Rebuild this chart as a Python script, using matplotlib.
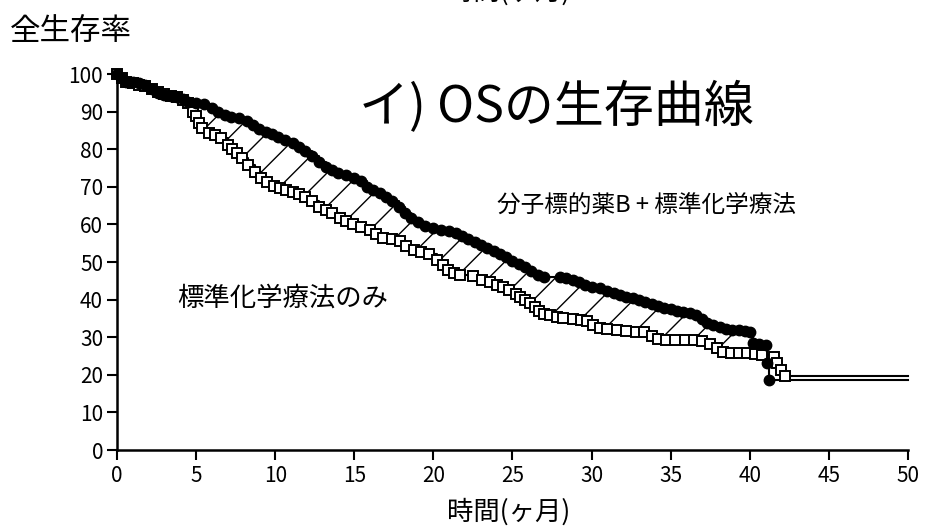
import numpy as np
import matplotlib
matplotlib.use("Agg")
import matplotlib.pyplot as plt

plt.rcParams['font.family'] = ['Noto Sans CJK JP', 'DejaVu Sans']

# Kaplan-Meier steps: 分子標的薬B + 標準化学療法 (filled circles)
t_combo = [0, 0.3, 0.6, 1.0, 1.4, 1.8, 2.2, 2.6, 3.0, 3.4, 3.8, 4.2, 4.5, 5.0, 5.5,
           6.0, 6.4, 6.8, 7.2, 7.7, 8.2, 8.6, 9.0, 9.4, 9.8, 10.2, 10.6, 11.1, 11.5,
           11.9, 12.3, 12.8, 13.2, 13.6, 14.0, 14.5, 15.0, 15.4, 15.8, 16.2, 16.6,
           17.0, 17.4, 17.8, 18.2, 18.6, 19.0, 19.5, 20.0, 20.5, 21.0, 21.4, 21.8,
           22.2, 22.6, 23.0, 23.4, 23.8, 24.2, 24.6, 25.0, 25.4, 25.8, 26.2, 26.6,
           27.0, 28.0, 28.4, 28.8, 29.2, 29.6, 30.0, 30.5, 31.0, 31.4, 31.8, 32.2,
           32.6, 33.0, 33.4, 33.8, 34.2, 34.6, 35.0, 35.4, 35.8, 36.2, 36.6, 37.0,
           37.3, 37.7, 38.1, 38.5, 38.9, 39.3, 39.7, 40.0, 40.2, 40.6, 41.0, 41.1, 41.2]
s_combo = [100, 99, 98, 97.9, 97.6, 97, 96, 95, 94.4, 94.2, 94, 93.4, 92.6, 92.3, 92,
           91, 90, 89, 88.5, 88.3, 87.5, 86.4, 85.3, 84.6, 84, 83.2, 82.4, 81.6, 80.6,
           79.5, 78.3, 76.5, 75.3, 74.5, 73.7, 73.1, 72.4, 71.6, 70, 69.2, 68.4,
           67.3, 66.2, 64.6, 63, 61.7, 60.6, 59.6, 59, 58.5, 58.2, 57.6, 57,
           56.2, 55.2, 54.6, 53.7, 53, 52.2, 51.3, 50.2, 49.4, 48.6, 47.6, 46.5,
           46.1, 46.0, 45.7, 45.2, 44.6, 44, 43.4, 43.1, 42.4, 41.8, 41.3, 40.8,
           40.4, 40, 39.4, 38.9, 38.3, 37.9, 37.5, 37.1, 36.8, 36.4, 35.9, 34.8,
           33.8, 33.3, 32.7, 32.2, 31.9, 31.8, 31.6, 31.4, 28.5, 28.2, 27.9, 23.2, 18.6]

# Kaplan-Meier steps: 標準化学療法のみ (open squares)
t_std = [0, 0.3, 0.6, 1.0, 1.4, 1.8, 2.2, 2.6, 3.0, 3.4, 3.8, 4.2, 4.5, 4.8, 5.0, 5.2,
         5.4, 5.8, 6.2, 6.6, 7.0, 7.3, 7.6, 7.9, 8.3, 8.7, 9.1, 9.5, 9.9, 10.3, 10.7,
         11.1, 11.5, 11.9, 12.3, 12.8, 13.2, 13.6, 14.1, 14.5, 14.9, 15.4, 16.0, 16.4,
         16.8, 17.4, 17.9, 18.3, 18.8, 19.2, 19.7, 20.2, 20.6, 20.9, 21.3, 21.7, 22.5,
         23.1, 23.6, 24.0, 24.4, 24.8, 25.2, 25.5, 25.8, 26.1, 26.4, 26.7, 27.0, 27.4,
         27.8, 28.2, 28.8, 29.3, 29.7, 30.1, 30.5, 31.0, 31.6, 32.2, 32.8, 33.3, 33.8,
         34.2, 34.7, 35.3, 35.9, 36.5, 37.0, 37.5, 37.9, 38.3, 38.8, 39.3, 39.8, 40.3,
         40.8, 41.5, 41.7, 42.0, 42.2]
s_std = [100, 99, 98, 97.6, 97.2, 96.8, 96, 95.2, 94.6, 94.2, 93.9, 93.2, 92.4, 90, 88.8, 87,
         85.6, 84.4, 83.8, 83, 81.1, 80, 79, 77.7, 75.8, 73.9, 72.4, 71.4, 70.3, 69.7, 69.1,
         68.5, 68, 67.3, 66.3, 64.6, 63.8, 63.1, 61.8, 60.8, 60, 59.2, 58.5, 57.5,
         56.4, 56.0, 55.7, 54.2, 53.3, 52.6, 52.2, 50.6, 49.2, 48, 47.2, 46.6, 46.2,
         45.3, 44.6, 44, 43.3, 42.6, 41.6, 40.8, 40, 39.1, 38, 37, 36.2, 35.8,
         35.3, 35, 34.8, 34.6, 34.2, 33.2, 32.4, 32.2, 31.8, 31.6, 31.5, 31.4, 30.4,
         29.6, 29.3, 29.3, 29.3, 29.3, 29.1, 28.1, 27.2, 26.2, 25.8, 25.8, 25.8, 25.6,
         25.4, 24.7, 23.1, 21.3, 19.8]

x_ticks = list(range(0, 51, 5))
y_ticks = list(range(0, 101, 10))
shade_from, shade_to = 5.5, 40.2

t_combo, s_combo = np.array(t_combo), np.array(s_combo)
t_std, s_std = np.array(t_std), np.array(s_std)


def km_value(t, times, surv):
    idx = np.searchsorted(times, t, side='right') - 1
    return surv[np.clip(idx, 0, len(surv) - 1)]


fig = plt.figure(figsize=(9.27, 5.28), dpi=100)
ax = fig.add_axes([0.1262, 0.1477, 0.8533, 0.7121])
x_max = x_ticks[-1]

# hatched gap between the two curves
grid = np.union1d(t_combo, t_std)
grid = grid[(grid >= shade_from) & (grid <= shade_to)]
upper = km_value(grid, t_combo, s_combo)
lower = km_value(grid, t_std, s_std)
ax.fill_between(grid, lower, upper, step='post', facecolor='none',
                edgecolor='black', hatch='/', linewidth=0, zorder=1)

# step lines, carried on to the end of the axis
ax.step(np.append(t_std, x_max), np.append(s_std, s_std[-1]), where='post',
        color='black', lw=1.5, zorder=2, clip_on=False)
ax.step(np.append(t_combo, x_max), np.append(s_combo, s_combo[-1]), where='post',
        color='black', lw=1.5, zorder=2, clip_on=False)

ax.plot(t_std, s_std, ls='none', marker='s', ms=6.5, mfc='white', mec='black',
        mew=1.4, zorder=3, clip_on=False)
ax.plot(t_combo, s_combo, ls='none', marker='o', ms=7.5, mfc='black', mec='black',
        zorder=4, clip_on=False)

ax.set_xlim(0, x_max)
ax.set_ylim(0, 100)
ax.set_xticks(x_ticks)
ax.set_yticks(y_ticks)
ax.tick_params(axis='both', direction='out', length=7, width=1.5, labelsize=15,
               color='black')
ax.tick_params(axis='x', pad=4)
ax.tick_params(axis='y', pad=3)
for side in ('top', 'right'):
    ax.spines[side].set_visible(False)
for side in ('left', 'bottom'):
    ax.spines[side].set_linewidth(1.8)

ax.text(0.556, 0.91, 'イ) OSの生存曲線', transform=ax.transAxes, ha='center',
        va='center', fontsize=36)
ax.text(0.67, 0.652, '分子標的薬B + 標準化学療法', transform=ax.transAxes,
        ha='center', va='center', fontsize=17)
ax.text(0.21, 0.404, '標準化学療法のみ', transform=ax.transAxes, ha='center',
        va='center', fontsize=19)

fig.text(0.011, 0.94, '全生存率', ha='left', va='center', fontsize=22)
fig.text(0.549, 0.03, '時間(ヶ月)', ha='center', va='center', fontsize=19)
fig.text(0.549, 0.99, '時間(ヶ月)', ha='center', va='bottom', fontsize=19)

fig.savefig('out.png', dpi=100, facecolor='white')
